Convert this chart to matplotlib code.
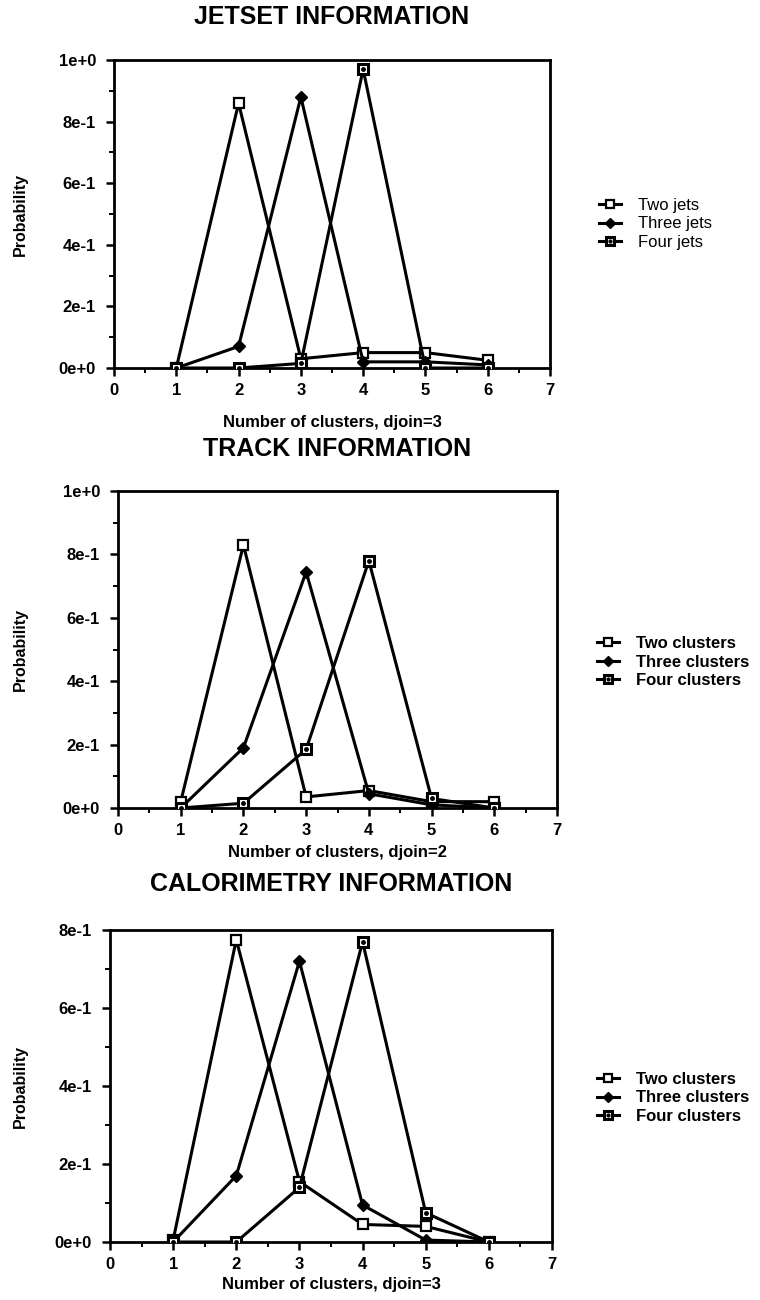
import matplotlib
matplotlib.use("Agg")
import matplotlib.pyplot as plt
from matplotlib.ticker import MultipleLocator, FuncFormatter
from matplotlib.legend_handler import HandlerTuple

plt.rcParams['font.family'] = ['Liberation Sans', 'DejaVu Sans']

W, H = 760, 1300

clusters = [1, 2, 3, 4, 5, 6]

# JETSET panel
jet_two = [0.0, 0.86, 0.03, 0.05, 0.05, 0.025]
jet_three = [0.0, 0.07, 0.88, 0.02, 0.02, 0.01]
jet_four = [0.0, 0.0, 0.015, 0.97, 0.0, 0.0]
jet_labels = ["Two jets", "Three jets", "Four jets"]

# TRACK panel
trk_two = [0.02, 0.83, 0.035, 0.055, 0.02, 0.02]
trk_three = [0.0, 0.19, 0.745, 0.045, 0.01, 0.0]
trk_four = [0.0, 0.015, 0.185, 0.78, 0.03, 0.0]

# CALORIMETRY panel
cal_two = [0.005, 0.775, 0.155, 0.045, 0.04, 0.0]
cal_three = [0.0, 0.17, 0.72, 0.095, 0.005, 0.0]
cal_four = [0.0, 0.0, 0.14, 0.77, 0.075, 0.0]

cluster_labels = ["Two clusters", "Three clusters", "Four clusters"]


def sci_label(v, pos):
    if abs(v) < 1e-9:
        return "0e+0"
    if abs(v - 1) < 1e-9:
        return "1e+0"
    return f"{int(round(v * 10))}e-1"


def px_axes(fig, left, right, top, bottom):
    return fig.add_axes([left / W, 1 - bottom / H, (right - left) / W, (bottom - top) / H])


def draw_panel(fig, box, series, labels, ymax, title, title_y, xlabel, xlabel_y,
               leg_xy, leg_weight):
    ax = px_axes(fig, *box)
    lw = 2.2
    two, three, four = series
    l1, = ax.plot(clusters, two, color="black", lw=lw, marker="s", ms=7,
                  mfc="white", mec="black", mew=1.6, zorder=3)
    l2, = ax.plot(clusters, three, color="black", lw=lw, marker="D", ms=6.5,
                  mfc="black", mec="black", zorder=3)
    l3, = ax.plot(clusters, four, color="black", lw=lw, marker="s", ms=7,
                  mfc="white", mec="black", mew=2.2, zorder=3)
    l3d, = ax.plot(clusters, four, ls="none", marker="o", ms=2.5,
                   mfc="black", mec="black", zorder=4)

    ax.set_xlim(0, 7)
    ax.set_ylim(0, ymax)
    ax.xaxis.set_major_locator(MultipleLocator(1))
    ax.xaxis.set_minor_locator(MultipleLocator(0.5))
    ax.yaxis.set_major_locator(MultipleLocator(0.2))
    ax.yaxis.set_minor_locator(MultipleLocator(0.1))
    ax.yaxis.set_major_formatter(FuncFormatter(sci_label))
    ax.tick_params(which="major", direction="out", length=6, width=1.8,
                   labelsize=12)
    ax.tick_params(axis="x", which="major", pad=5)
    ax.tick_params(axis="y", which="major", pad=7)
    ax.tick_params(which="minor", direction="out", length=3.5, width=1.4)
    for lab in ax.get_xticklabels() + ax.get_yticklabels():
        lab.set_fontweight("bold")
    for sp in ax.spines.values():
        sp.set_linewidth(2.0)

    cx = (box[0] + box[1]) / 2 / W
    cy = 1 - (box[2] + box[3]) / 2 / H
    fig.text(20 / W, cy, "Probability", rotation=90, ha="center", va="center",
             fontsize=11.5, fontweight="bold")
    fig.text(cx, 1 - title_y / H, title, ha="center", va="center",
             fontsize=18, fontweight="bold")
    fig.text(cx, 1 - xlabel_y / H, xlabel, ha="center", va="center",
             fontsize=12, fontweight="bold")

    # square-with-dot handle for the third series: both artists overlaid
    fig.legend([l1, l2, (l3, l3d)], labels, loc="center left",
               bbox_to_anchor=(leg_xy[0] / W, 1 - leg_xy[1] / H),
               frameon=False, prop={"size": 12, "weight": leg_weight},
               handlelength=1.3, handletextpad=1.0, labelspacing=0.2,
               markerscale=0.8, borderpad=0.3,
               handler_map={tuple: HandlerTuple(ndivide=1)})
    return ax


fig = plt.figure(figsize=(W / 100, H / 100), dpi=100)

draw_panel(fig, (114, 550, 60, 368), (jet_two, jet_three, jet_four), jet_labels,
           1.0, "JETSET INFORMATION", 17, "Number of clusters, djoin=3", 423,
           (586, 224), "normal")
draw_panel(fig, (118, 557, 491, 808), (trk_two, trk_three, trk_four), cluster_labels,
           1.0, "TRACK INFORMATION", 449, "Number of clusters, djoin=2", 853,
           (584, 662), "bold")
draw_panel(fig, (110, 552, 930, 1242), (cal_two, cal_three, cal_four), cluster_labels,
           0.8, "CALORIMETRY INFORMATION", 884, "Number of clusters, djoin=3", 1285,
           (584, 1098), "bold")

fig.savefig("out.png", dpi=100)
